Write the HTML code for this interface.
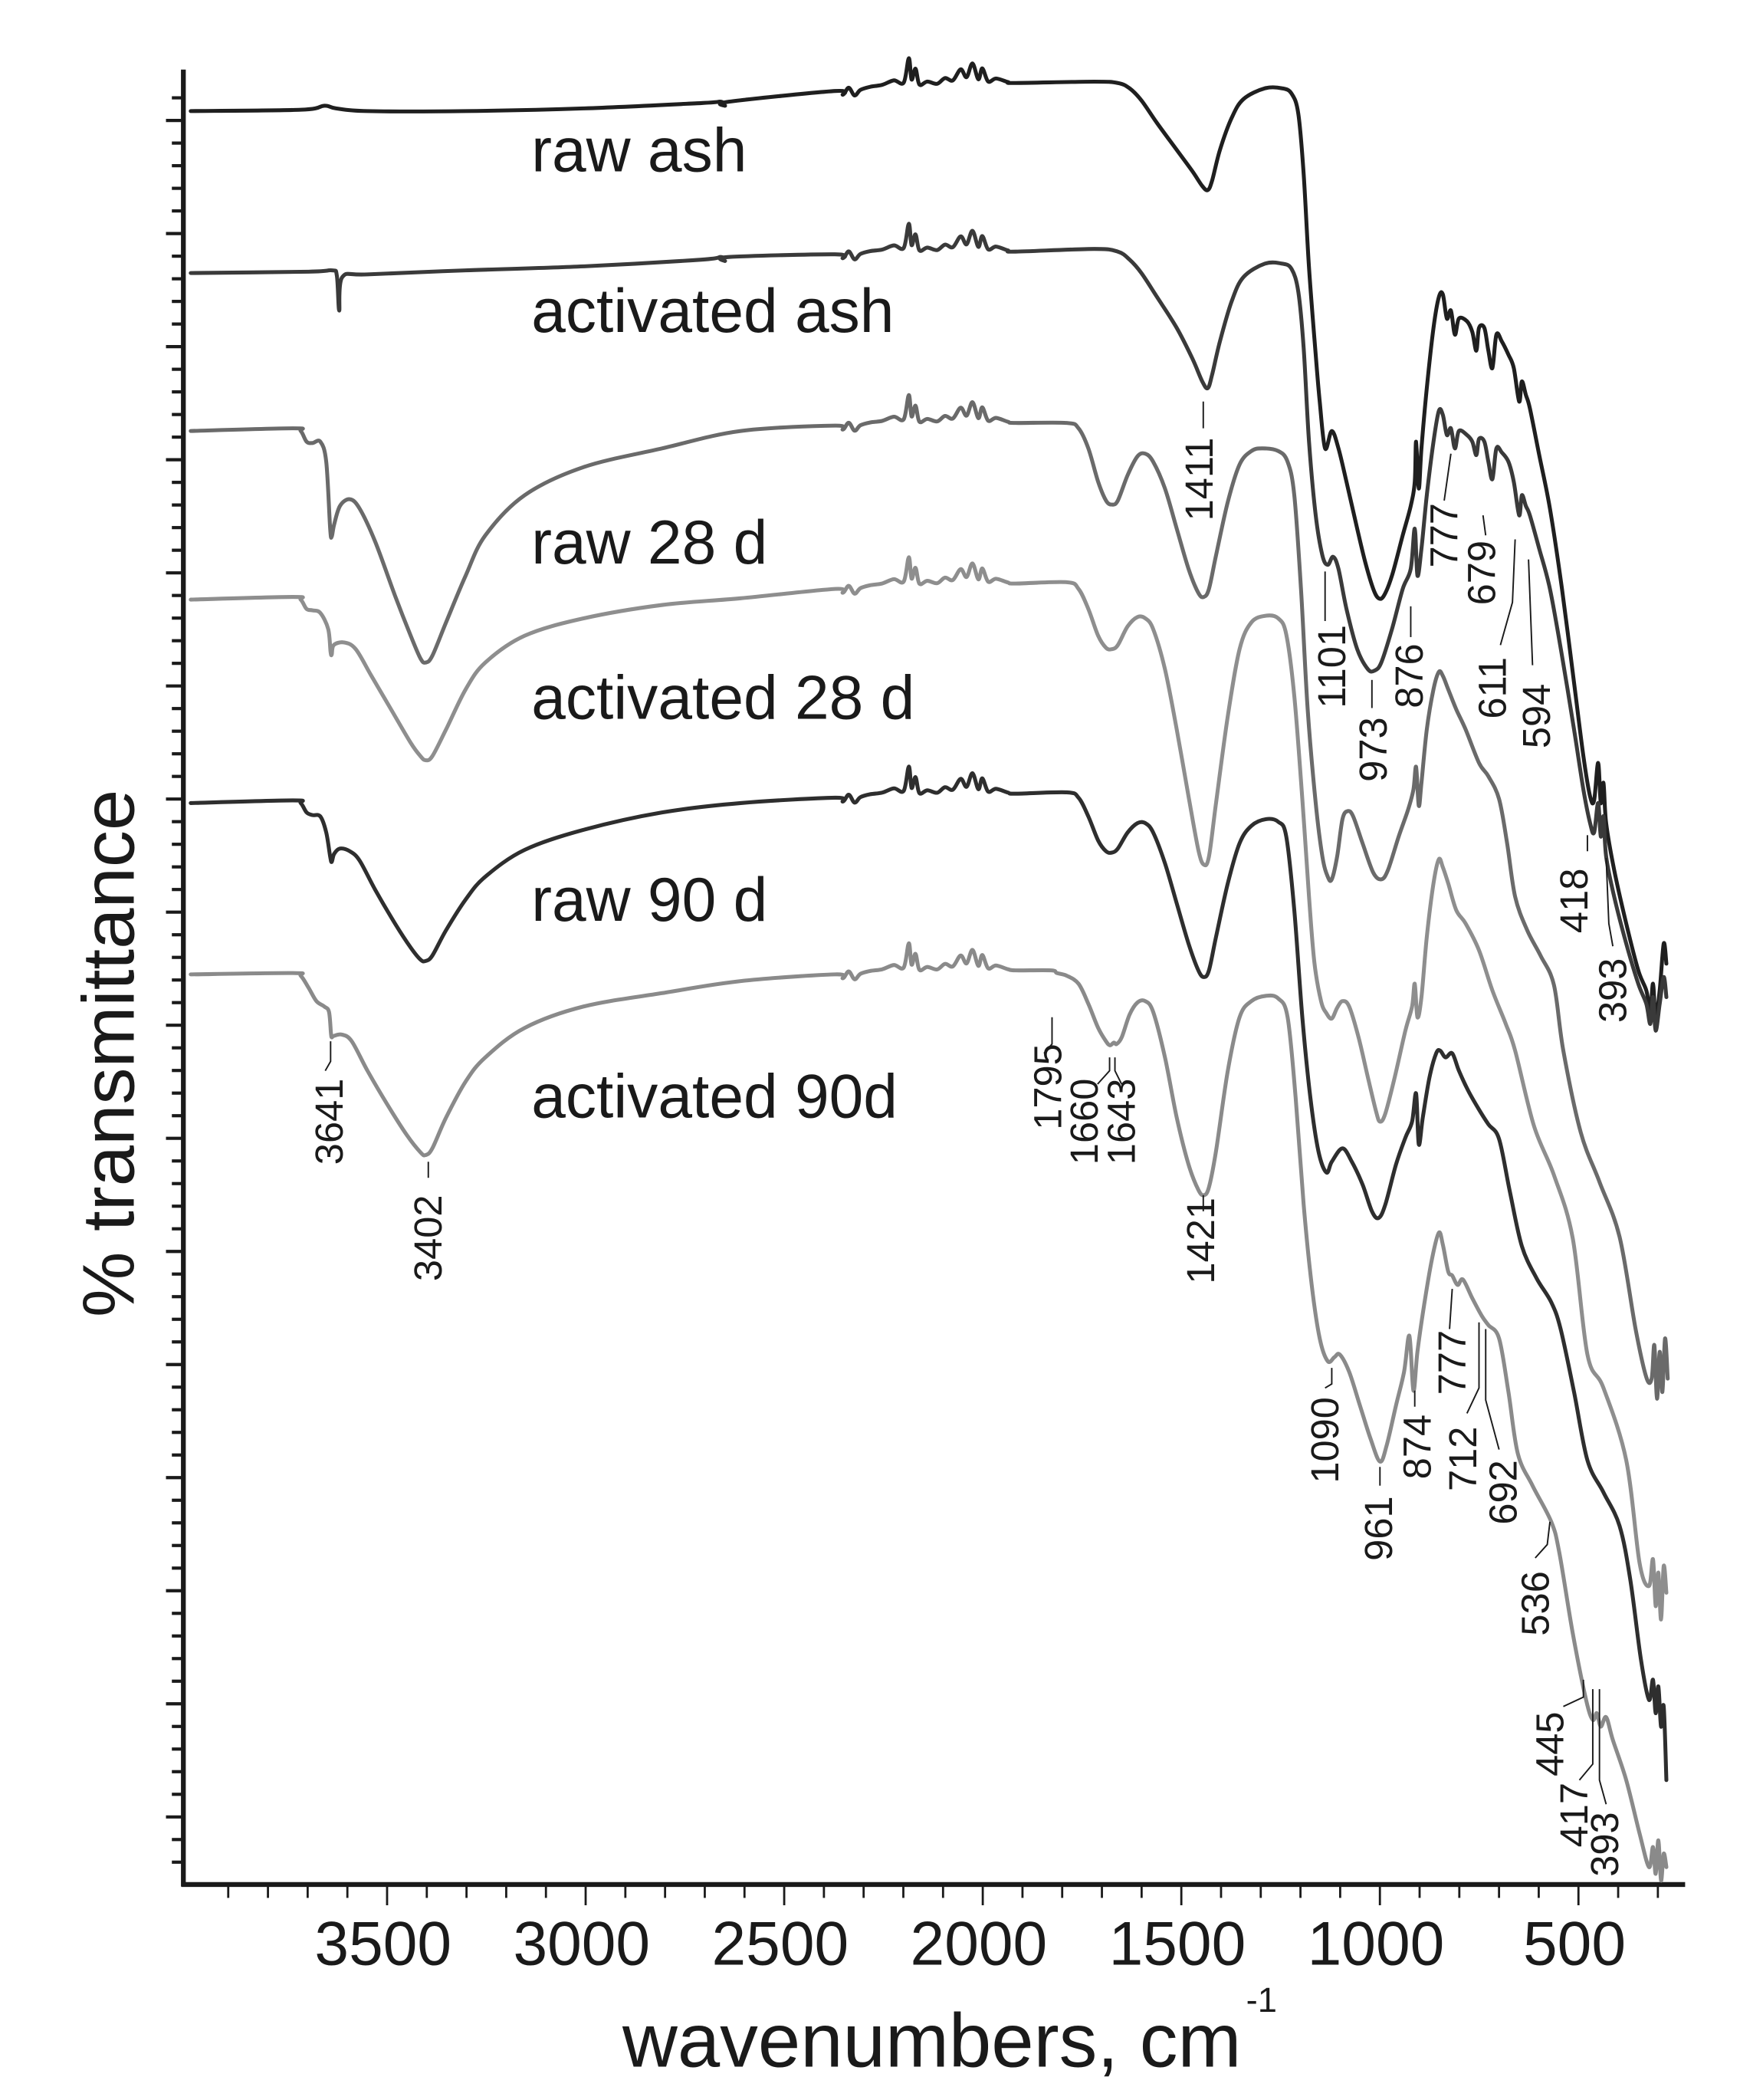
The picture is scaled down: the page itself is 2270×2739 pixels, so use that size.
<!DOCTYPE html>
<html><head><meta charset="utf-8">
<style>
html,body{margin:0;padding:0;background:#fff;}
svg{display:block;}
text{font-family:"Liberation Sans",Arial,sans-serif;fill:#1a1a1a;}
</style></head>
<body>
<svg id="s" width="2270" height="2739" viewBox="0 0 1300 1569" preserveAspectRatio="none" xmlns="http://www.w3.org/2000/svg">
<g id="axes" stroke="#1a1a1a" fill="none"></g>
<g id="curves" fill="none" stroke-linejoin="round" stroke-linecap="round"></g>
<g id="leaders" stroke="#1a1a1a" stroke-width="1.1" fill="none"></g>
<g id="txt"></g>
</svg>
<script>
var NS="http://www.w3.org/2000/svg";
function el(p,n,a,t){var e=document.createElementNS(NS,n);for(var k in a)e.setAttribute(k,a[k]);if(t!=null)e.textContent=t;document.getElementById(p).appendChild(e);return e;}
// axes
el("axes","line",{x1:137,y1:52,x2:137,y2:1409.5,"stroke-width":3.6});
el("axes","line",{x1:135.5,y1:1408,x2:1259,y2:1408,"stroke-width":3.6});
for(var y=174.5-16.9*6;y<1400;y+=16.9){
  var k=Math.round((y-174.5)/16.9);var maj=(k%5===0);
  el("axes","line",{x1:137,y1:y,x2:137-(maj?13:8.6),y2:y,"stroke-width":2.4});
}
var TX=function(w){return 289.2+(3500-w)*0.2967;};
for(var w=3900;w>=300;w-=100){
  var maj=(w%500===0);
  el("axes","line",{x1:TX(w),y1:1408,x2:TX(w),y2:1408+(maj?15.5:10),"stroke-width":1.6});
  if(maj) el("txt","text",{x:TX(w)-3,y:1468,"font-size":46,"text-anchor":"middle"},String(w));
}
el("txt","text",{x:465,y:1544,"font-size":57},"wavenumbers, cm");
el("txt","text",{x:931,y:1503,"font-size":26},"-1");
el("txt","text",{x:0,y:0,"font-size":55,"text-anchor":"middle",transform:"translate(100,787) rotate(-90)"},"% transmittance");
// curve labels
[["raw ash",128],["activated ash",248],["raw 28 d",421],["activated 28 d",537],["raw 90 d",688],["activated 90d",835]].forEach(function(a){
  el("txt","text",{x:397,y:a[1],"font-size":46},a[0]);
});
// curves
var X=function(w){return 318+(3402-w)*0.2935;};
var NZ=[[2340,3],[2325,-2],[2310,4],[2295,0],[2270,-2],[2240,-3],[2210,-6],[2185,-4],[2172,-22],[2165,-6],[2155,-14],[2145,-2],[2125,-4],[2100,-2],[2080,-6],[2060,-4],[2040,-12],[2025,-6],[2010,-16],[1995,-4],[1985,-12],[1970,-2],[1950,-4],[1920,-1]];
function build(left,right){
  var pts=[];
  for(var i=0;i<left.length;i++){
    var p=left[i];pts.push([X(p[0]),p[1]]);
    if(p[0]===2360&&left[i+1]&&left[i+1][0]===1900){
      var y1=p[1],y2=left[i+1][1];
      NZ.forEach(function(n){var t=(2360-n[0])/460;pts.push([X(n[0]),y1+(y2-y1)*t+n[1]]);});
    }
  }
  right.forEach(function(p){pts.push(p);});
  var d="M"+pts[0][0].toFixed(2)+","+pts[0][1].toFixed(2);
  for(var i=0;i<pts.length-1;i++){
    var p0=pts[i-1]||pts[i],p1=pts[i],p2=pts[i+1],p3=pts[i+2]||p2;
    var c1=[p1[0]+(p2[0]-p0[0])/6,p1[1]+(p2[1]-p0[1])/6];
    var c2=[p2[0]-(p3[0]-p1[0])/6,p2[1]-(p3[1]-p1[1])/6];
    d+="C"+c1[0].toFixed(2)+","+c1[1].toFixed(2)+" "+c2[0].toFixed(2)+","+c2[1].toFixed(2)+" "+p2[0].toFixed(2)+","+p2[1].toFixed(2);
  }
  return d;
}
var S=[
 {c:"#1f1f1f",L:[[4000,83],[3720,82],[3660,79],[3630,81],[3550,83],[3300,83],[3000,81],[2700,77],[2650,76],[2640,79],[2630,76],[2360,68],[1900,62],[1700,61],[1640,62],[1610,66],[1580,75],[1540,92],[1490,112],[1450,128],[1425,139],[1411,142],[1400,135],[1380,112],[1350,88],[1320,74]],
  R:[[945,66],[958,66],[965,70],[970,85],[974,130],[978,200],[983,265],[986,300],[990,335],[995,322],[1000,335],[1006,360],[1014,395],[1020,420],[1026,440],[1030,447],[1034,445],[1040,430],[1048,400],[1054,378],[1057,360],[1058,330],[1060,365],[1062,335],[1066,290],[1071,245],[1075,222],[1078,220],[1081,238],[1084,232],[1087,250],[1090,238],[1096,240],[1100,248],[1103,262],[1105,245],[1109,245],[1112,262],[1115,275],[1118,250],[1122,255],[1127,265],[1131,275],[1135,300],[1137,285],[1140,295],[1143,305],[1150,340],[1158,380],[1167,440],[1176,510],[1183,565],[1188,595],[1191,598],[1194,570],[1196,600],[1198,585],[1200,615],[1206,650],[1215,690],[1224,725],[1230,740],[1233,755],[1235,735],[1237,760],[1240,740],[1243,705],[1245,720]]},
 {c:"#3a3a3a",L:[[4000,204],[3700,203],[3640,202],[3628,206],[3622,232],[3614,207],[3550,205],[3300,202],[3000,199],[2700,194],[2650,192],[2640,195],[2630,192],[2360,190],[1900,188],[1700,186],[1640,188],[1610,194],[1580,204],[1540,222],[1490,245],[1450,268],[1425,285],[1411,290],[1400,280],[1380,255],[1350,225],[1320,207]],
  R:[[945,197],[958,197],[965,201],[970,218],[974,260],[978,330],[983,385],[988,415],[992,422],[996,416],[1000,425],[1006,455],[1014,485],[1022,500],[1027,501],[1032,495],[1040,470],[1048,440],[1054,425],[1057,395],[1059,430],[1062,410],[1066,370],[1071,330],[1075,307],[1078,310],[1081,325],[1084,320],[1087,335],[1090,322],[1096,325],[1100,330],[1103,340],[1105,328],[1109,330],[1112,345],[1115,358],[1118,335],[1122,338],[1127,345],[1131,360],[1135,385],[1137,370],[1140,378],[1143,385],[1150,410],[1158,440],[1167,490],[1176,545],[1183,590],[1188,615],[1191,622],[1194,600],[1196,625],[1198,610],[1200,640],[1206,670],[1215,705],[1224,735],[1230,750],[1233,765],[1235,745],[1237,770],[1240,750],[1243,730],[1245,745]]},
 {c:"#6a6a6a",L:[[4000,322],[3740,320],[3720,322],[3705,330],[3690,331],[3670,330],[3655,345],[3645,395],[3641,401],[3635,392],[3620,378],[3595,373],[3570,380],[3530,405],[3480,445],[3440,475],[3415,492],[3402,495],[3385,490],[3350,465],[3300,430],[3250,400],[3150,370],[3000,349],[2800,335],[2600,322],[2360,318],[1900,316],[1770,316],[1740,320],[1715,335],[1690,360],[1670,374],[1655,377],[1640,374],[1615,355],[1590,341],[1570,339],[1550,345],[1520,365],[1490,395],[1460,425],[1435,443],[1421,446],[1408,440],[1390,415],[1360,375],[1330,347],[1300,337]],
  R:[[943,335],[955,337],[962,345],[967,370],[972,440],[977,530],[983,600],[988,640],[992,655],[995,657],[999,640],[1003,612],[1007,606],[1011,610],[1018,630],[1026,652],[1032,657],[1037,650],[1045,625],[1052,605],[1056,590],[1058,573],[1060,602],[1062,585],[1066,545],[1071,515],[1075,502],[1078,505],[1082,515],[1088,530],[1095,545],[1105,570],[1112,580],[1120,597],[1126,630],[1132,670],[1141,695],[1151,714],[1161,736],[1168,785],[1181,846],[1195,883],[1210,924],[1222,993],[1230,1029],[1234,1030],[1236,1005],[1238,1045],[1240,1010],[1242,1040],[1244,1000],[1246,1030]]},
 {c:"#8e8e8e",L:[[4000,448],[3740,446],[3720,448],[3705,455],[3690,456],[3670,458],[3650,470],[3644,487],[3641,489],[3636,482],[3610,480],[3580,485],[3540,505],[3490,530],[3440,555],[3415,565],[3402,568],[3385,565],[3350,545],[3300,515],[3250,495],[3150,475],[3000,462],[2800,452],[2600,447],[2360,440],[1900,436],[1770,435],[1740,440],[1715,455],[1690,475],[1670,484],[1655,485],[1640,482],[1615,468],[1590,461],[1570,462],[1550,470],[1520,500],[1490,545],[1460,595],[1435,635],[1421,646],[1408,640],[1390,600],[1360,535],[1330,485],[1300,465]],
  R:[[946,460],[955,462],[961,474],[967,520],[973,597],[978,670],[982,719],[987,748],[991,757],[995,761],[999,753],[1003,748],[1008,752],[1015,775],[1022,805],[1028,830],[1031,838],[1035,832],[1042,805],[1050,770],[1055,752],[1057,735],[1059,760],[1062,745],[1066,700],[1071,660],[1075,642],[1078,648],[1082,660],[1088,680],[1095,690],[1105,710],[1115,740],[1125,765],[1132,785],[1146,841],[1161,878],[1175,925],[1186,1012],[1198,1037],[1215,1091],[1225,1168],[1232,1185],[1235,1165],[1237,1200],[1239,1175],[1241,1210],[1243,1170],[1245,1190]]},
 {c:"#2e2e2e",L:[[4000,600],[3740,598],[3720,600],[3705,607],[3690,609],[3670,610],[3655,622],[3645,640],[3641,644],[3635,638],[3620,634],[3595,636],[3570,643],[3530,665],[3480,690],[3440,708],[3415,717],[3402,718],[3385,714],[3350,695],[3300,672],[3250,655],[3150,635],[3000,620],[2800,607],[2600,600],[2360,596],[1900,593],[1770,592],[1740,596],[1715,610],[1690,628],[1670,636],[1655,637],[1640,634],[1615,622],[1590,615],[1570,615],[1550,622],[1520,645],[1490,675],[1460,705],[1435,725],[1421,730],[1408,725],[1390,700],[1360,660],[1330,630],[1300,617]],
  R:[[946,612],[955,614],[961,625],[967,680],[973,760],[979,820],[985,860],[991,876],[995,868],[1003,858],[1010,868],[1018,885],[1025,905],[1030,910],[1035,900],[1043,870],[1050,850],[1055,838],[1058,817],[1060,855],[1063,835],[1068,805],[1073,787],[1076,785],[1080,790],[1085,787],[1090,800],[1097,815],[1105,829],[1112,840],[1120,851],[1128,890],[1137,931],[1148,955],[1159,973],[1166,993],[1176,1040],[1186,1091],[1198,1115],[1210,1140],[1218,1180],[1226,1240],[1232,1270],[1235,1255],[1237,1280],[1239,1260],[1241,1290],[1243,1275],[1245,1330]]},
 {c:"#8a8a8a",L:[[4000,728],[3740,727],[3720,729],[3700,738],[3680,748],[3660,752],[3648,756],[3643,772],[3641,775],[3636,774],[3615,773],[3590,778],[3550,800],[3500,825],[3450,848],[3415,861],[3402,863],[3385,858],[3350,835],[3300,808],[3250,790],[3150,768],[3000,752],[2800,742],[2600,733],[2360,728],[1900,725],[1810,725],[1795,727],[1770,729],[1740,735],[1715,750],[1690,768],[1670,778],[1660,781],[1650,779],[1643,780],[1630,775],[1610,758],[1590,749],[1570,748],[1550,756],[1520,790],[1490,835],[1460,870],[1435,889],[1421,893],[1408,887],[1390,860],[1360,800],[1330,760],[1300,748]],
  R:[[946,744],[955,746],[962,760],[968,820],[974,900],[980,960],[986,1000],[992,1017],[997,1014],[1001,1012],[1008,1025],[1016,1050],[1024,1075],[1031,1092],[1036,1080],[1043,1050],[1049,1025],[1053,998],[1056,1039],[1059,1010],[1064,975],[1070,940],[1075,921],[1078,930],[1082,950],[1085,953],[1089,960],[1093,956],[1100,970],[1107,983],[1112,990],[1120,1000],[1127,1040],[1134,1086],[1145,1110],[1159,1137],[1165,1160],[1175,1220],[1185,1270],[1190,1285],[1193,1280],[1196,1290],[1200,1283],[1205,1300],[1215,1330],[1225,1370],[1232,1395],[1235,1380],[1237,1400],[1239,1375],[1241,1405],[1243,1385],[1245,1395]]}
];
S.forEach(function(s){el("curves","path",{d:build(s.L,s.R),stroke:s.c,"stroke-width":2.9});});
// annotations
var A=[["1411",896,358],["1101",995,498],["973",1026,560],["876",1053,505],["777",1079,400],["679",1107,428],["611",1115,514],["594",1148,535],["418",1176,673],["393",1205,740],
["3641",246,838],["3402",320,925],["1795",783,812],["1660",810,838],["1643",838,838],["1421",897,927],
["1090",990,1076],["961",1030,1142],["874",1059,1081],["777",1085,1018],["712",1093,1090],["692",1123,1115],["536",1147,1198],["445",1158,1303],["417",1176,1356],["393",1199,1378]];
A.forEach(function(a){el("txt","text",{x:0,y:0,"font-size":29,"text-anchor":"middle",transform:"translate("+(a[1]+10)+","+a[2]+") rotate(-90)"},a[0]);});
var Lz=[[[899,300],[899,320]],[[990,427],[990,464]],[[1025,508],[1025,529]],[[1054,453],[1054,476]],[[1084,339],[1079,374]],[[1108,385],[1110,400]],[[1132,403],[1130,450],[1121,482]],[[1142,418],[1145,497]],[[1186,624],[1186,636]],[[1200,641],[1202,690],[1205,707]],
[[247,778],[247,793],[243,800]],[[320,868],[320,880]],[[786,760],[786,780],[780,787]],[[829,790],[829,800],[820,810]],[[833,790],[833,800],[838,810]],[[899,893],[899,905]],
[[990,1037],[995,1034],[995,1022]],[[1031,1096],[1031,1110]],[[1057,1039],[1057,1051]],[[1085,963],[1083,993]],[[1105,988],[1105,1037],[1096,1056]],[[1110,993],[1110,1046],[1120,1083]],[[1158,1137],[1156,1154],[1147,1164]],[[1183,1255],[1183,1268],[1168,1275]],[[1190,1262],[1190,1318],[1180,1330]],[[1195,1262],[1195,1330],[1200,1348]]];
Lz.forEach(function(l){el("leaders","polyline",{points:l.map(function(p){return p.join(",");}).join(" ")});});
</script>
</body></html>
